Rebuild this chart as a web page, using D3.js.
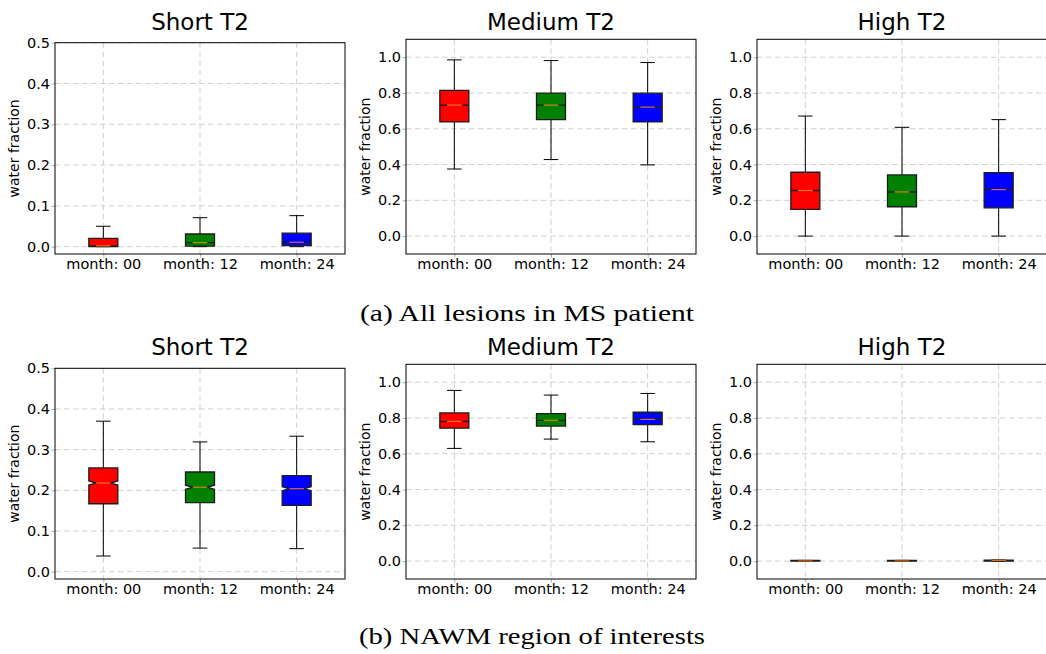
<!DOCTYPE html>
<html>
<head>
<meta charset="utf-8">
<script src="https://cdn.jsdelivr.net/npm/d3@7"></script>
<style>
  body { margin: 0; background: #fff; }
  svg text { font-family: "DejaVu Sans", sans-serif; }
</style>
</head>
<body>
<svg id="fig" width="1046" height="654"></svg>
<script>
// ---- data ----------------------------------------------------------------
const months = ["month: 00", "month: 12", "month: 24"];
const titles = ["Short T2", "Medium T2", "High T2"];
const captions = ["(a) All lesions in MS patient", "(b) NAWM region of interests"];
const shortTicks = [0.0, 0.1, 0.2, 0.3, 0.4, 0.5];
const wideTicks = [0.0, 0.2, 0.4, 0.6, 0.8, 1.0];

// per month: [lower whisker, q1, median, q3, upper whisker]
const lesionsShort = [
  [0.000, 0.000, 0.002, 0.0205, 0.050],
  [0.000, 0.0015, 0.010, 0.031, 0.071],
  [0.000, 0.0025, 0.0108, 0.033, 0.076]
];
const lesionsMedium = [
  [0.375, 0.638, 0.732, 0.814, 0.985],
  [0.428, 0.651, 0.732, 0.799, 0.981],
  [0.398, 0.638, 0.721, 0.799, 0.970]
];
const lesionsHigh = [
  [0.000, 0.149, 0.255, 0.357, 0.671],
  [0.000, 0.164, 0.247, 0.342, 0.608],
  [0.000, 0.158, 0.260, 0.355, 0.651]
];
const nawmShort = [
  [0.0385, 0.167, 0.218, 0.255, 0.370],
  [0.058, 0.170, 0.2075, 0.245, 0.319],
  [0.0566, 0.163, 0.204, 0.236, 0.333]
];
const nawmMedium = [
  [0.630, 0.743, 0.781, 0.828, 0.954],
  [0.682, 0.755, 0.787, 0.824, 0.928],
  [0.667, 0.763, 0.792, 0.832, 0.937]
];
const nawmHigh = [
  [0.000, 0.000, 0.001, 0.004, 0.004],
  [0.000, 0.000, 0.001, 0.004, 0.004],
  [0.000, 0.000, 0.004, 0.006, 0.006]
];
// half-height of the median notch (confidence interval), per month
const lesionsNotch = [[0.0003, 0.0005, 0.0005], [0.0008, 0.0008, 0.0008], [0.001, 0.001, 0.001]];
const nawmNotch = [[0.005, 0.005, 0.005], [0.0008, 0.0008, 0.0008], [0.0002, 0.0002, 0.0002]];

// ---- styling -------------------------------------------------------------
const boxFill = ["#ff0000", "#008000", "#0000ff"];
const medianColor = "#ff7f0e";
const gridColor = "#cfcfcf";
const panelWidth = 290;
const colLeft = [55, 406, 757];
const rows = [
  { stats: [lesionsShort, lesionsMedium, lesionsHigh], notch: lesionsNotch,
    tops: [42.7, 39.3, 39.3], bottom: 254, titleY: 29.5, caption: captions[0], capX: 527, capY: 321, capW: 334 },
  { stats: [nawmShort, nawmMedium, nawmHigh], notch: nawmNotch,
    tops: [368.3, 364.3, 364.3], bottom: 579, titleY: 355, caption: captions[1], capX: 532, capY: 644, capW: 346 }
];

const svg = d3.select("#fig");

function drawPanel(stats, notch, col, top, bottom, titleY, title) {
  const left = colLeft[col];
  const isShort = col === 0;
  const x = d3.scaleLinear().domain([0.5, 3.5]).range([left, left + panelWidth]);
  const y = d3.scaleLinear()
    .domain(isShort ? [-0.018, 0.5] : [-0.1, 1.1])
    .range([bottom, top]);
  const ticks = isShort ? shortTicks : wideTicks;
  const positions = months.map((m, i) => i + 1);
  const g = svg.append("g");

  // dashed grid behind everything
  g.append("g").selectAll("line.h").data(ticks).join("line")
    .attr("x1", left).attr("x2", left + panelWidth)
    .attr("y1", d => y(d)).attr("y2", d => y(d))
    .attr("stroke", gridColor).attr("stroke-width", 1).attr("stroke-dasharray", "5.5,3.5");
  g.append("g").selectAll("line.v").data(positions).join("line")
    .attr("x1", d => x(d)).attr("x2", d => x(d))
    .attr("y1", top).attr("y2", bottom)
    .attr("stroke", gridColor).attr("stroke-width", 1).attr("stroke-dasharray", "5.5,3.5");

  // axes
  const yAxis = g.append("g").attr("transform", `translate(${left},0)`)
    .call(d3.axisLeft(y).tickValues(ticks).tickFormat(d3.format(".1f")).tickSize(3.5).tickPadding(1.5));
  const xAxis = g.append("g").attr("transform", `translate(0,${bottom})`)
    .call(d3.axisBottom(x).tickValues(positions).tickFormat((d, i) => months[i]).tickSize(3.5).tickPadding(1.3));
  [yAxis, xAxis].forEach(a => {
    a.select(".domain").remove();
    a.selectAll(".tick line").attr("stroke", "#b0b0b0");
    a.selectAll(".tick text").attr("fill", "#000").style("font-size", "14.5px")
      .style("font-family", '"DejaVu Sans", sans-serif');
  });

  // boxes
  const half = (x(1.15) - x(1));      // half box width (box width 0.3)
  const capHalf = (x(1.075) - x(1));  // half cap width / notch inset
  const boxes = g.append("g").selectAll("g").data(stats).join("g");
  boxes.each(function (s, i) {
    const b = d3.select(this);
    const cx = x(positions[i]);
    const [lo, q1, med, q3, hi] = s;
    // whiskers
    b.append("line").attr("x1", cx).attr("x2", cx).attr("y1", y(q3)).attr("y2", y(hi))
      .attr("stroke", "#000").attr("stroke-width", 1);
    b.append("line").attr("x1", cx).attr("x2", cx).attr("y1", y(q1)).attr("y2", y(lo))
      .attr("stroke", "#000").attr("stroke-width", 1);
    // caps
    [lo, hi].forEach(v => {
      b.append("line").attr("x1", cx - capHalf).attr("x2", cx + capHalf)
        .attr("y1", y(v)).attr("y2", y(v)).attr("stroke", "#000").attr("stroke-width", 1);
    });
    // notched box
    const nlo = Math.max(q1, med - notch[col][i]);
    const nhi = Math.min(q3, med + notch[col][i]);
    const L = cx - half, R = cx + half, CL = cx - capHalf, CR = cx + capHalf;
    const p = d3.path();
    p.moveTo(L, y(q1)); p.lineTo(R, y(q1)); p.lineTo(R, y(nlo)); p.lineTo(CR, y(med));
    p.lineTo(R, y(nhi)); p.lineTo(R, y(q3)); p.lineTo(L, y(q3)); p.lineTo(L, y(nhi));
    p.lineTo(CL, y(med)); p.lineTo(L, y(nlo)); p.closePath();
    b.append("path").attr("d", p.toString()).attr("fill", boxFill[i])
      .attr("stroke", "#1c1c1c").attr("stroke-width", 1.3).attr("stroke-linejoin", "miter");
    // median
    b.append("line").attr("x1", CL).attr("x2", CR).attr("y1", y(med)).attr("y2", y(med))
      .attr("stroke", medianColor).attr("stroke-width", 1.2).attr("opacity", 0.85);
  });

  // frame
  g.append("rect").attr("x", left).attr("y", top).attr("width", panelWidth).attr("height", bottom - top)
    .attr("fill", "none").attr("stroke", "#000").attr("stroke-width", 1);

  // y label and title
  g.append("text").attr("transform", `translate(${left - 36},${(top + bottom) / 2}) rotate(-90)`)
    .attr("text-anchor", "middle").style("font-size", "14px").text("water fraction");
  g.append("text").attr("x", left + panelWidth / 2).attr("y", titleY)
    .attr("text-anchor", "middle").style("font-size", "23px").text(title);
}

rows.forEach(r => {
  r.stats.forEach((s, c) => drawPanel(s, r.notch, c, r.tops[c], r.bottom, r.titleY, titles[c]));
  svg.append("text").attr("x", r.capX).attr("y", r.capY).attr("text-anchor", "middle")
    .style("font-family", '"Liberation Serif", serif').style("font-size", "23px")
    .attr("textLength", r.capW).attr("lengthAdjust", "spacingAndGlyphs")
    .text(r.caption);
});
</script>
</body>
</html>
